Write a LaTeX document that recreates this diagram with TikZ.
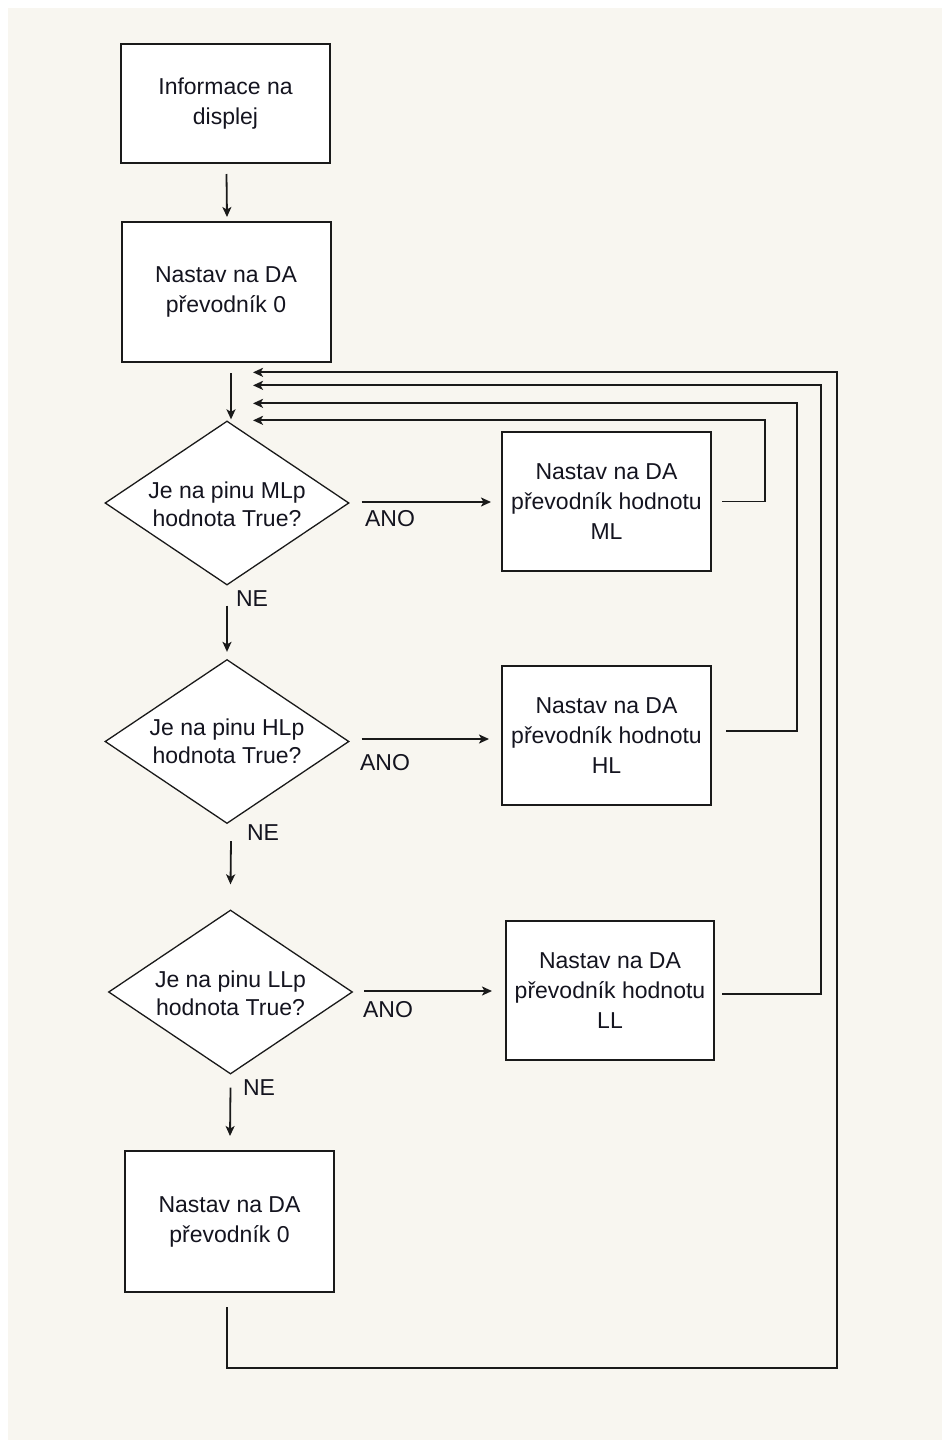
\documentclass[tikz,border=0pt]{standalone}
\usepackage{fontspec}
\setmainfont{Liberation Sans}
\usetikzlibrary{shapes.geometric,arrows.meta}
\definecolor{paper}{HTML}{F8F6F0}
\definecolor{ink}{HTML}{1A1A1A}
\definecolor{txt}{HTML}{14141F}
\begin{document}
\begin{tikzpicture}[x=1pt,y=-1pt,
  box/.style={draw=ink, line width=2pt, fill=white, inner sep=0pt,
    minimum width=209pt, minimum height=140pt, align=center,
    font=\fontsize{23}{30}\selectfont, text=txt},
  dec/.style={diamond, draw=ink, line width=1.3pt, fill=white, inner sep=0pt,
    minimum width=244pt, minimum height=164pt},
  dtext/.style={align=center, inner sep=0pt, font=\fontsize{23}{28}\selectfont, text=txt},
  lbl/.style={inner sep=0pt, font=\fontsize{23}{28}\selectfont, text=txt},
  arr/.style={draw=ink, line width=1.8pt, -{Stealth[length=10pt,width=9pt,inset=2.5pt]}},
  ln/.style={draw=ink, line width=1.8pt}]

% page and paper
\useasboundingbox (0,0) rectangle (942,1440);
\fill[white] (0,0) rectangle (942,1440);
\fill[paper] (8,8) rectangle (942,1440);

% main column
\node[box, minimum height=119pt] (b1) at (225.5,103.5) {Informace na\\displej};
\node[box] (b2) at (226,292) {Nastav na DA\\převodník 0};

\node[dec] (d1) at (227,503) {};
\node[dtext] (d1t) at (227,504) {Je na pinu MLp\\hodnota True?};
\node[dec] (d2) at (227,741.5) {};
\node[dtext] (d2t) at (227,741) {Je na pinu HLp\\hodnota True?};
\node[dec] (d3) at (230.5,992) {};
\node[dtext] (d3t) at (230.5,993) {Je na pinu LLp\\hodnota True?};

\node[box, minimum height=141pt] (b3) at (229.5,1221.5) {Nastav na DA\\převodník 0};

% right column
\node[box, minimum height=139pt] (ml) at (606.5,501.5) {Nastav na DA\\převodník hodnotu\\ML};
\node[box, minimum height=139pt] (hl) at (606.5,735.5) {Nastav na DA\\převodník hodnotu\\HL};
\node[box, minimum width=208pt, minimum height=139pt] (ll) at (610,990.5) {Nastav na DA\\převodník hodnotu\\LL};

% downward flow
\draw[arr] ([xshift=1pt,yshift=-10pt]b1.south) -- ([xshift=1pt,yshift=4pt]b2.north);
\draw[arr] ([xshift=5pt,yshift=-10pt]b2.south) -- ([xshift=4pt,yshift=1pt]d1.north);
\draw[arr] ([yshift=-20pt]d1.south) -- ([yshift=7pt]d2.north);
\draw[arr] ([xshift=4pt,yshift=-17pt]d2.south) -- ([yshift=25pt]d3.north);
\draw[arr] ([yshift=-13pt]d3.south) -- ([xshift=0.5pt,yshift=14pt]b3.north);

\node[lbl] (ne1) at (252,599) {NE};
\node[lbl] (ne2) at (263,833) {NE};
\node[lbl] (ne3) at (259,1088) {NE};

% yes branches
\draw[arr] ([xshift=12pt,yshift=1pt]d1.east) -- ([xshift=-10pt,yshift=1pt]d1.east -| ml.west);
\draw[arr] ([xshift=12pt,yshift=2.5pt]d2.east) -- ([xshift=-12pt,yshift=2.5pt]d2.east -| hl.west);
\draw[arr] ([xshift=11pt,yshift=1pt]d3.east) -- ([xshift=-13pt,yshift=1pt]d3.east -| ll.west);

\node[lbl] (ano1) at (390,519) {ANO};
\node[lbl] (ano2) at (385,763) {ANO};
\node[lbl] (ano3) at (388,1010) {ANO};

% return paths to the first decision
\draw[arr] ([xshift=10pt]ml.east) -- ++(43,0) |- ([xshift=26pt]d1.north);
\draw[arr] ([xshift=14pt,yshift=4.5pt]hl.east) -- ++(71,0) |- ([xshift=26pt,yshift=17pt]d1.north);
\draw[arr] ([xshift=7pt,yshift=-3.5pt]ll.east) -- ++(99,0) |- ([xshift=26pt,yshift=35pt]d1.north);
\draw[arr] ([xshift=-2.5pt,yshift=-14pt]b3.south) -- ++(0,61) -- ++(610,0) |- ([xshift=26pt,yshift=48pt]d1.north);
\end{tikzpicture}
\end{document}
